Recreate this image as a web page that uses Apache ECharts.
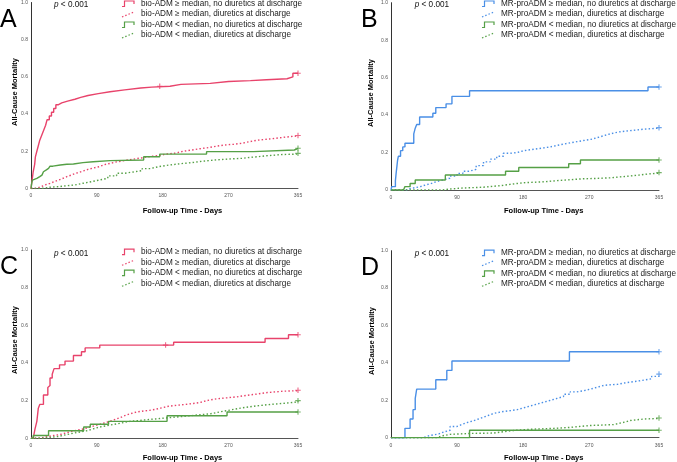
<!DOCTYPE html>
<html><head><meta charset="utf-8">
<script src="https://cdn.jsdelivr.net/npm/echarts@6/dist/echarts.min.js"></script>
<style>html,body{margin:0;padding:0;background:#fff}#c{width:677px;height:462px}</style>
</head><body><div id="c"></div>
<script>
// ---------- labels ----------
const xTicks = [0, 90, 180, 270, 365];
const panelLetters = ['A', 'B', 'C', 'D'];
const pText = 'p < 0.001';
const xTitle = 'Follow-up Time - Days';
const yTitle = 'All-Cause Mortality';
const bioNames = ['bio-ADM \u2265 median, no diuretics at discharge', 'bio-ADM \u2265 median, diuretics at discharge',
  'bio-ADM < median, no diuretics at discharge', 'bio-ADM < median, diuretics at discharge'];
const mrNames = ['MR-proADM \u2265 median, no diuretics at discharge', 'MR-proADM \u2265 median, diuretics at discharge',
  'MR-proADM < median, no diuretics at discharge', 'MR-proADM < median, diuretics at discharge'];

// ---------- Panel A (bio-ADM) [day, cumulative mortality] ----------
const A_hiNoDiu = [[0,0],[1,0.03],[2,0.06],[3,0.09],[4,0.11],[5,0.13],[6,0.17],[8,0.2],[10,0.23],[12,0.26],[14,0.28],[16,0.3],[18,0.32],[20,0.34],[22,0.37],[25,0.39],[28,0.41],[31,0.43],[34,0.45],[37,0.46],[42,0.47],[50,0.48],[60,0.49],[68,0.5],[78,0.51],[92,0.52],[108,0.53],[128,0.54],[150,0.545],[165,0.55],[190,0.56],[205,0.565],[245,0.575],[270,0.58],[300,0.585],[322,0.59],[350,0.6],[358,0.62],[365,0.62]];
const A_hiDiu = [[0,0],[5,0.005],[10,0.012],[15,0.02],[20,0.028],[26,0.037],[32,0.046],[38,0.055],[44,0.064],[49,0.072],[55,0.08],[60,0.087],[66,0.095],[72,0.103],[78,0.11],[85,0.118],[94,0.128],[100,0.135],[108,0.143],[117,0.15],[128,0.158],[140,0.165],[152,0.172],[163,0.178],[175,0.185],[185,0.19],[197,0.2],[208,0.207],[220,0.214],[231,0.22],[243,0.228],[254,0.234],[265,0.238],[277,0.243],[288,0.252],[299,0.26],[310,0.265],[322,0.27],[335,0.275],[345,0.279],[355,0.283],[365,0.285]];
const A_loNoDiu = [[0,0],[1,0.03],[2,0.045],[4,0.054],[8,0.064],[12,0.072],[15,0.08],[17,0.09],[19,0.1],[21,0.108],[24,0.115],[26,0.12],[30,0.126],[40,0.13],[49,0.132],[58,0.139],[71,0.144],[85,0.15],[108,0.153],[154,0.171],[176,0.185],[240,0.198],[304,0.207],[360,0.216],[365,0.216]];
const A_loDiu = [[0,0],[10,0.003],[20,0.007],[26,0.01],[38,0.015],[49,0.019],[60,0.028],[71,0.037],[83,0.046],[94,0.055],[105,0.068],[117,0.082],[128,0.089],[140,0.096],[152,0.107],[163,0.117],[174,0.124],[185,0.13],[197,0.135],[208,0.139],[220,0.145],[231,0.15],[243,0.154],[254,0.157],[265,0.16],[277,0.162],[288,0.167],[299,0.171],[310,0.176],[322,0.18],[335,0.183],[345,0.185],[365,0.189]];
const A_censored = [[[176,0.55],[365,0.62]], [[365,0.285]], [[365,0.216]], [[365,0.189]]];

// ---------- Panel B (MR-proADM) ----------
const B_hiNoDiu = [[0,0],[1,0.018],[6,0.05],[7,0.09],[8,0.125],[9,0.16],[10,0.18],[13,0.21],[16,0.23],[19,0.25],[31,0.3],[33,0.33],[35,0.35],[39,0.39],[57,0.41],[61,0.44],[75,0.46],[83,0.5],[107,0.53],[350,0.55],[365,0.55]];
const B_hiDiu = [[0,0],[17,0],[21,0.007],[26,0.012],[32,0.018],[40,0.027],[47,0.035],[55,0.045],[62,0.053],[70,0.063],[80,0.075],[90,0.089],[98,0.1],[106,0.11],[116,0.13],[126,0.15],[135,0.165],[144,0.18],[153,0.196],[162,0.2],[172,0.21],[181,0.215],[190,0.22],[199,0.225],[208,0.23],[217,0.238],[226,0.245],[235,0.252],[244,0.258],[253,0.264],[262,0.27],[272,0.28],[281,0.29],[290,0.3],[299,0.31],[310,0.315],[321,0.32],[333,0.325],[345,0.33],[365,0.333]];
const B_loNoDiu = [[0,0],[17,0],[19,0.018],[26,0.035],[33,0.053],[74,0.08],[156,0.1],[174,0.12],[242,0.14],[258,0.16],[365,0.16]];
const B_loDiu = [[0,0],[58,0],[70,0.005],[80,0.01],[95,0.012],[108,0.015],[126,0.02],[140,0.025],[153,0.03],[162,0.035],[172,0.04],[185,0.042],[199,0.045],[212,0.05],[226,0.055],[244,0.06],[262,0.062],[281,0.065],[299,0.07],[312,0.075],[326,0.08],[338,0.085],[349,0.09],[365,0.093]];
const B_censored = [[[365,0.55]], [[365,0.333]], [[365,0.16]], [[365,0.093]]];

// ---------- Panel C (bio-ADM) ----------
const C_hiNoDiu = [[0,0],[3,0],[5.5,0.05],[8,0.09],[10,0.16],[12,0.18],[17,0.23],[23,0.27],[24,0.28],[26,0.32],[29,0.34],[31.5,0.37],[39,0.39],[46.5,0.41],[58,0.44],[69,0.46],[74,0.48],[94,0.495],[195,0.51],[320,0.53],[352,0.55],[365,0.55]];
const C_hiDiu = [[0,0],[3,0],[10,0.005],[17,0.01],[24,0.015],[31,0.02],[40,0.03],[49,0.04],[60,0.05],[72,0.06],[81,0.07],[90,0.08],[99,0.09],[108,0.1],[115,0.11],[122,0.12],[128,0.13],[135,0.14],[145,0.145],[154,0.15],[165,0.16],[177,0.17],[188,0.175],[199,0.18],[211,0.185],[222,0.19],[231,0.2],[240,0.21],[254,0.215],[268,0.22],[281,0.228],[295,0.235],[309,0.243],[323,0.25],[345,0.253],[365,0.255]];
const C_loNoDiu = [[0,0],[3,0.015],[24,0.04],[72,0.06],[81,0.075],[106,0.09],[186,0.12],[268,0.14],[365,0.14]];
const C_loDiu = [[0,0],[5,0],[15,0.005],[26,0.01],[38,0.02],[49,0.03],[62,0.04],[76,0.05],[85,0.06],[94,0.07],[108,0.08],[122,0.09],[135,0.095],[149,0.1],[162,0.105],[176,0.11],[190,0.115],[204,0.12],[218,0.125],[231,0.13],[245,0.14],[258,0.15],[272,0.16],[286,0.17],[304,0.178],[322,0.185],[343,0.193],[365,0.2]];
const C_censored = [[[184,0.495],[365,0.55]], [[365,0.255]], [[365,0.14]], [[365,0.2]]];

// ---------- Panel D (MR-proADM) ----------
const D_hiNoDiu = [[0,0],[19,0.05],[26,0.1],[30,0.15],[33,0.21],[35,0.26],[61,0.31],[76,0.36],[83,0.41],[243,0.46],[365,0.46]];
const D_hiDiu = [[0,0],[35,0],[44,0.01],[51,0.015],[58,0.02],[65,0.03],[71.5,0.04],[80.5,0.06],[90,0.07],[96,0.08],[103,0.09],[112,0.1],[119,0.11],[126,0.12],[133,0.13],[140,0.14],[153,0.145],[163,0.15],[172,0.16],[181,0.17],[190,0.18],[199,0.19],[208,0.2],[217,0.21],[226,0.22],[235,0.232],[244,0.245],[253,0.252],[263,0.26],[272,0.27],[281,0.28],[290,0.283],[299,0.285],[308,0.292],[317,0.3],[331,0.308],[345,0.315],[355,0.328],[365,0.34]];
const D_loNoDiu = [[0,0],[107,0.04],[365,0.04]];
const D_loDiu = [[0,0],[58,0],[62,0.01],[70,0.018],[80.5,0.023],[110,0.025],[140,0.032],[153,0.04],[170,0.045],[190,0.05],[222,0.055],[244,0.065],[270,0.068],[290,0.07],[303,0.078],[312,0.085],[320,0.092],[326,0.1],[345,0.103],[365,0.105]];
const D_censored = [[[365,0.46]], [[365,0.34]], [[365,0.04]], [[365,0.105]]];

// ---------- styling / layout ----------
const RED = '#e8436b', BLUE = '#4a8fe6', GREEN = '#55a046';
const FONT = '"Liberation Sans", Arial, sans-serif';
const DOT = [1.5, 2.2];
const PLUS = 'path://M2,0h1v2h2v1h-2v2h-1v-2h-2v-1h2z';

const panels = [
  { grid: {left: 31, top: 2.5, width: 267, height: 186}, names: bioNames, hi: RED,
    curves: [A_hiNoDiu, A_hiDiu, A_loNoDiu, A_loDiu], censored: A_censored,
    letter: {x: 0, y: 20}, p: {x: 54, y: 5}, yt: {x: 15, y: 92}, xt: {x: 182.5, y: 211},
    leg: {x: 122, tx: 141, ys: [3.5, 14, 24.5, 35]} },
  { grid: {left: 391, top: 2.7, width: 268, height: 187.3}, names: mrNames, hi: BLUE,
    curves: [B_hiNoDiu, B_hiDiu, B_loNoDiu, B_loDiu], censored: B_censored,
    letter: {x: 361, y: 20.5}, p: {x: 414.7, y: 5}, yt: {x: 371, y: 93}, xt: {x: 543.7, y: 210.5},
    leg: {x: 482, tx: 501, ys: [3.5, 14, 24.5, 35]} },
  { grid: {left: 31, top: 250, width: 267, height: 188.3}, names: bioNames, hi: RED,
    curves: [C_hiNoDiu, C_hiDiu, C_loNoDiu, C_loDiu], censored: C_censored,
    letter: {x: 0, y: 267.5}, p: {x: 54, y: 254}, yt: {x: 15, y: 340}, xt: {x: 182.5, y: 458},
    leg: {x: 122, tx: 141, ys: [251.7, 262.3, 272.7, 283.3]} },
  { grid: {left: 391, top: 250.7, width: 268, height: 187}, names: mrNames, hi: BLUE,
    curves: [D_hiNoDiu, D_hiDiu, D_loNoDiu, D_loDiu], censored: D_censored,
    letter: {x: 361, y: 268}, p: {x: 414.7, y: 254}, yt: {x: 372, y: 341}, xt: {x: 543.7, y: 458},
    leg: {x: 482, tx: 501, ys: [252.7, 262.7, 273.3, 283.3]} }
];

const grids = [], xAxes = [], yAxes = [], series = [], graphics = [];
panels.forEach((P, g) => {
  grids.push(P.grid);
  xAxes.push({
    type: 'value', gridIndex: g, min: 0, max: 365,
    axisLine: {show: true, lineStyle: {color: '#555', width: 1}},
    axisTick: {show: false}, splitLine: {show: false},
    axisLabel: {customValues: xTicks, fontSize: 5, color: '#555', margin: 5, fontFamily: FONT}
  });
  yAxes.push({
    type: 'value', gridIndex: g, min: 0, max: 1, interval: 0.2,
    axisLine: {show: true, lineStyle: {color: '#333', width: 1}},
    axisTick: {show: false}, splitLine: {show: false},
    axisLabel: {fontSize: 5, color: '#555', margin: 3, fontFamily: FONT,
      formatter: v => v === 0 ? '0' : v.toFixed(1)}
  });
  const colors = [P.hi, P.hi, GREEN, GREEN];
  const dotted = [false, true, false, true];
  P.curves.forEach((data, i) => {
    series.push({
      type: 'line', name: P.names[i], data: data, xAxisIndex: g, yAxisIndex: g,
      step: 'end', showSymbol: false, symbol: 'none', silent: true, animation: false,
      z: dotted[i] ? 2 : 3,
      lineStyle: {color: colors[i], width: dotted[i] ? 1.4 : 1.4, type: dotted[i] ? DOT : 'solid'},
      itemStyle: {color: colors[i]}
    });
    series.push({
      type: 'scatter', data: P.censored[i], xAxisIndex: g, yAxisIndex: g,
      symbol: PLUS, symbolSize: 5.5, silent: true, animation: false, z: 4,
      itemStyle: {color: colors[i]}
    });
    // legend entry
    const yc = P.leg.ys[i], x0 = P.leg.x;
    const pts = dotted[i]
      ? [[x0, yc + 3], [x0 + 12, yc - 2]]
      : [[x0, yc + 3], [x0 + 2.5, yc + 3], [x0 + 2.5, yc - 2.5], [x0 + 12, yc - 2.5], [x0 + 12, yc + 0.5]];
    graphics.push({type: 'polyline', silent: true, shape: {points: pts},
      style: {stroke: colors[i], lineWidth: 1.2, fill: null, lineDash: dotted[i] ? [1.5, 2] : null}});
    graphics.push({type: 'text', silent: true, x: P.leg.tx, y: yc,
      style: {text: P.names[i], fontSize: 8.2, fontFamily: FONT, fill: '#222', align: 'left', verticalAlign: 'middle'}});
  });
  graphics.push({type: 'text', silent: true, x: P.letter.x, y: P.letter.y,
    style: {text: panelLetters[g], fontSize: 25, fontFamily: FONT, fill: '#000', align: 'left', verticalAlign: 'middle'}});
  graphics.push({type: 'text', silent: true, x: P.p.x, y: P.p.y,
    style: {text: '{i|p} < 0.001', fontSize: 8.2, fontFamily: FONT, fill: '#111', align: 'left', verticalAlign: 'middle',
      rich: {i: {fontStyle: 'italic', fontSize: 8.2, fontFamily: FONT, fill: '#111'}}}});
  graphics.push({type: 'text', silent: true, x: P.xt.x, y: P.xt.y,
    style: {text: xTitle, fontSize: 7.5, fontWeight: 'bold', fontFamily: FONT, fill: '#000', align: 'center', verticalAlign: 'middle'}});
  graphics.push({type: 'text', silent: true, x: P.yt.x, y: P.yt.y, rotation: Math.PI / 2,
    style: {text: yTitle, fontSize: 7.5, fontWeight: 'bold', fontFamily: FONT, fill: '#000', align: 'center', verticalAlign: 'middle'}});
});

const chart = echarts.init(document.getElementById('c'), null, {renderer: 'canvas'});
chart.setOption({
  backgroundColor: '#fff',
  animation: false,
  grid: grids, xAxis: xAxes, yAxis: yAxes, series: series,
  graphic: {elements: graphics}
});
</script>
</body></html>
